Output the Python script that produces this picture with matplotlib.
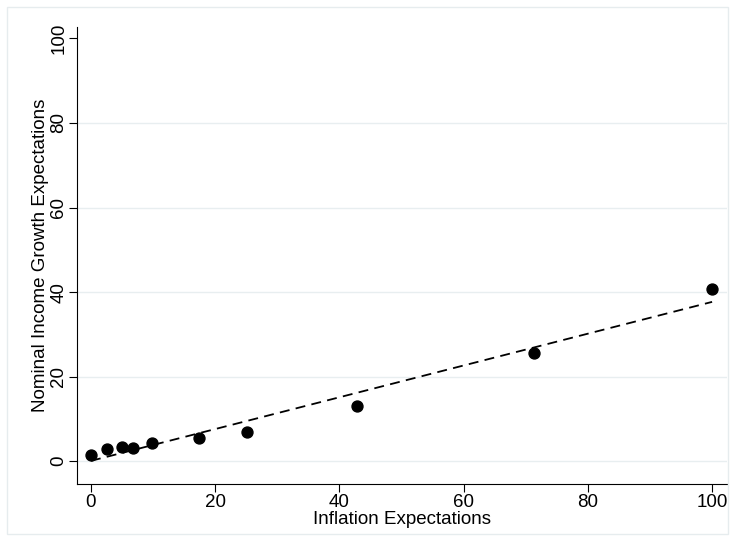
import numpy as np
import matplotlib.pyplot as plt
from matplotlib.patches import Rectangle

plt.rcParams['font.family'] = ['Liberation Sans', 'DejaVu Sans']

# binned scatter values
inflation = [0.0, 2.6, 5.0, 6.7, 9.8, 17.4, 25.1, 42.8, 71.3, 100.0]
income = [1.4, 2.8, 3.3, 3.1, 4.2, 5.4, 6.9, 13.0, 25.5, 40.7]

x = np.array(inflation)
y = np.array(income)
slope, intercept = np.polyfit(x, y, 1)
xf = np.array([x.min(), x.max()])

fig = plt.figure(figsize=(7.35, 5.41), dpi=100)
fig.patches.append(Rectangle((7/735, 7/541), 721/735, 527/541, transform=fig.transFigure,
                             fill=False, edgecolor='#E6ECEE', lw=1))
ax = fig.add_axes([77/735, 1 - 484/541, 650/735, 457/541])

for g in [0, 20, 40, 60, 80]:
    ax.axhline(g, color='#E8EEF0', lw=1, zorder=0)

ax.scatter(x, y, s=62, color='black', zorder=3)
ax.plot(xf, intercept + slope * xf, color='black', lw=1.3, ls=(0, (5.5, 3.5)), zorder=2)

ax.set_xlim(-2.25, 102.4)
ax.set_ylim(-5.4, 102.7)
ax.set_xticks([0, 20, 40, 60, 80, 100])
ax.set_yticks([0, 20, 40, 60, 80, 100])
ax.tick_params(direction='out', length=6, labelsize=13.5, pad=1)
for lab in ax.get_yticklabels():
    lab.set_rotation(90)
    lab.set_va('center')
ax.spines['top'].set_visible(False)
ax.spines['right'].set_visible(False)
ax.set_xlabel('Inflation Expectations', fontsize=13.5, labelpad=0.5)
ax.set_ylabel('Nominal Income Growth Expectations', fontsize=13.5, labelpad=1)

fig.savefig('out.png', dpi=100)
